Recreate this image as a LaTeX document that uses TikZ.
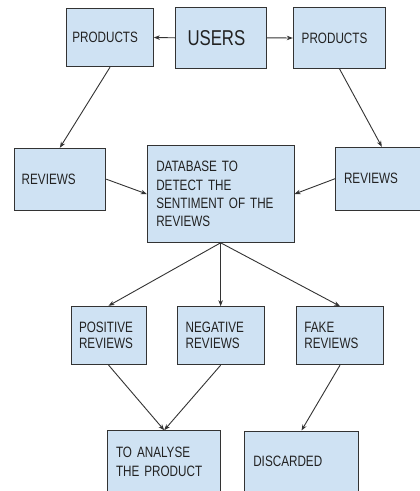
\documentclass[tikz,border=0pt]{standalone}
\usepackage{fontspec}
\setmainfont{Liberation Sans}
\newfontfamily\boxfont[FakeStretch=0.78]{Liberation Sans}
\usetikzlibrary{arrows.meta}
\definecolor{boxfill}{HTML}{CFE2F3}
\definecolor{edgecol}{HTML}{333333}
\definecolor{ink}{HTML}{222222}
\begin{document}
\begin{tikzpicture}[x=1pt,y=-1pt,
  box/.style={draw=edgecol, line width=1pt, fill=boxfill, text=ink,
    inner ysep=0pt, align=left, anchor=center,
    font=\boxfont\fontsize{15}{18.3}\selectfont},
  smallbox/.style={box, font=\boxfont\fontsize{15}{16}\selectfont},
  bigbox/.style={box, font=\boxfont\fontsize{21.5}{26}\selectfont},
  arr/.style={draw=edgecol, line width=0.9pt, -{Stealth[length=6pt,width=4.5pt]}}]
\useasboundingbox (0,0) rectangle (420,491);
\clip (0,0) rectangle (420,491);
\fill[white] (0,0) rectangle (420,491);

\node[box, inner xsep=5.6pt, text width=75.4pt, minimum height=58.4pt] (p1) at (110,37.5) {PRODUCTS};
\node[bigbox, inner xsep=12pt, text width=67.2pt, minimum height=61pt] (users) at (221.1,37.8) {USERS};
\node[box, inner xsep=8.4pt, text width=75.6pt, minimum height=60.6pt] (p2) at (339.5,38) {PRODUCTS};

\node[box, inner xsep=7.7pt, text width=76.3pt, minimum height=61.7pt] (r1) at (59.85,179.15) {REVIEWS};
\node[box, inner xsep=9pt, text width=128.7pt, minimum height=96.6pt] (db) at (220.65,194) {DATABASE TO\\DETECT THE\\SENTIMENT OF THE\\REVIEWS};
\node[box, inner xsep=8.3pt, text width=75.7pt, minimum height=62.7pt] (r2) at (381.85,178.65) {REVIEWS};

\node[smallbox, inner xsep=8pt, text width=59pt, minimum height=58.2pt] (pos) at (108.5,335.4) {POSITIVE\\REVIEWS};
\node[smallbox, inner xsep=8.7pt, text width=69.9pt, minimum height=58pt] (neg) at (220.65,335.7) {NEGATIVE\\REVIEWS};
\node[smallbox, inner xsep=7.7pt, text width=71.2pt, minimum height=58pt] (fake) at (340,335.7) {FAKE\\REVIEWS};

\node[box, inner xsep=8.3pt, text width=96.4pt, minimum height=62pt] (ana) at (164.2,461.7) {TO ANALYSE\\THE PRODUCT};
\node[box, inner xsep=8.6pt, text width=96.4pt, minimum height=61.4pt] (disc) at (301.5,461.7) {DISCARDED};

\draw[arr] (users.west) -- (p1.east);
\draw[arr] (users.east) -- (p2.west);
\draw[arr] (p1.south) -- (r1.north);
\draw[arr] (p2.south) -- (r2.north);
\draw[arr] (r1.east) -- (db.west);
\draw[arr] (r2.west) -- (db.east);
\draw[arr] (db.south) -- (pos.north);
\draw[arr] (db.south) -- (neg.north);
\draw[arr] (db.south) -- (fake.north);
\draw[arr] (pos.south) -- (ana.north);
\draw[arr] (neg.south) -- (ana.north);
\draw[arr] (fake.south) -- (disc.north);
\end{tikzpicture}
\end{document}
